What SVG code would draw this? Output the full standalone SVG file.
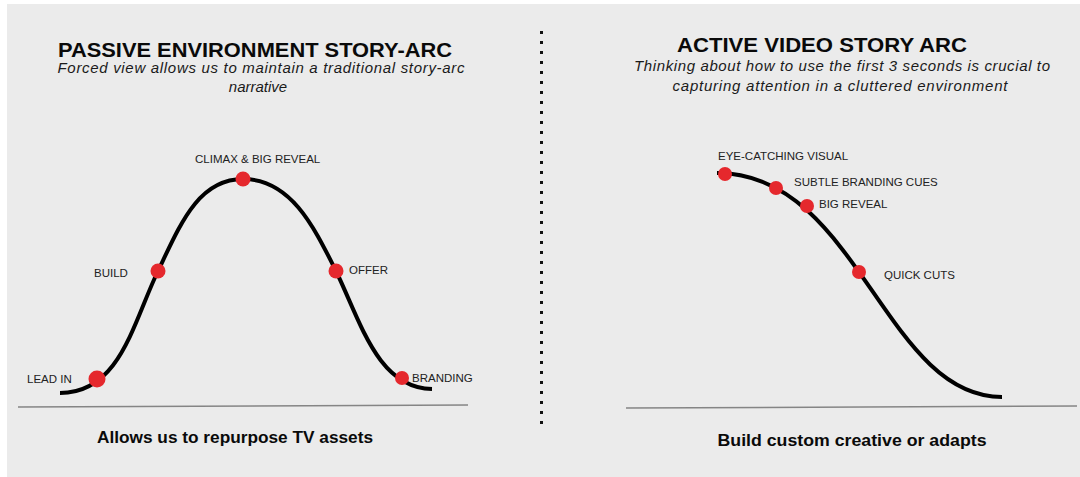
<svg xmlns="http://www.w3.org/2000/svg" width="1080" height="477" viewBox="0 0 1080 477">
  <style>
    .title { font-family: "Liberation Sans", Arial, sans-serif; font-weight: bold; font-size: 21px; fill: #0a0a0a; text-anchor: middle; }
    .sub { font-family: "Liberation Sans", Arial, sans-serif; font-style: italic; font-size: 15px; fill: #1a1a1a; text-anchor: middle; }
    .foot { font-family: "Liberation Sans", Arial, sans-serif; font-weight: bold; font-size: 16.5px; fill: #0a0a0a; text-anchor: middle; }
    .lbl { font-family: "Liberation Sans", Arial, sans-serif; font-size: 11.5px; fill: #222; }
    .dot { fill: #e5282d; }
    .arc { fill: none; stroke: #000; stroke-width: 4; }
    .axis { stroke: #858585; stroke-width: 1.5; fill: none; }
    .divider { stroke: #111; stroke-width: 3; stroke-dasharray: 3 7; }
  </style>

  <!-- page background -->
  <rect x="0" y="0" width="1080" height="477" fill="#ffffff"/>
  <rect x="7" y="4" width="1073" height="473" fill="#ebebeb"/>

  <!-- headings -->
  <g id="passive-heading">
    <text class="title" x="255" y="57" textLength="394" lengthAdjust="spacingAndGlyphs">PASSIVE ENVIRONMENT STORY-ARC</text>
    <text class="sub" x="261" y="73" textLength="407" lengthAdjust="spacing">Forced view allows us to maintain a traditional story-arc</text>
    <text class="sub" x="258" y="92">narrative</text>
  </g>
  <g id="active-heading">
    <text class="title" x="822" y="52" textLength="290" lengthAdjust="spacingAndGlyphs">ACTIVE VIDEO STORY ARC</text>
    <text class="sub" x="842" y="71" textLength="416" lengthAdjust="spacing">Thinking about how to use the first 3 seconds is crucial to</text>
    <text class="sub" x="840" y="91" textLength="335" lengthAdjust="spacing">capturing attention in a cluttered environment</text>
  </g>

  <!-- centre divider -->
  <line class="divider" x1="541.5" y1="31" x2="541.5" y2="425"/>

  <!-- ground lines -->
  <line class="axis" x1="18" y1="407" x2="468" y2="405"/>
  <line class="axis" x1="626" y1="408" x2="1077" y2="406"/>

  <!-- story arcs -->
  <g id="connectors">
    <path class="arc" d="M60,393 C120,393 133,323 158,271 C180,225 198,179 243,179 C291,179 314,227 336,271 C361,323 378,388 432,389"/>
    <path class="arc" d="M717,173 C858,173 884,397 1002,397"/>
  </g>

  <!-- passive arc points -->
  <g id="lead-in">
    <circle class="dot" cx="97" cy="379" r="8.5"/>
    <text class="lbl" x="27" y="383">LEAD IN</text>
  </g>
  <g id="build">
    <circle class="dot" cx="158" cy="271" r="7.5"/>
    <text class="lbl" x="94" y="277">BUILD</text>
  </g>
  <g id="climax">
    <circle class="dot" cx="243" cy="179" r="7.5"/>
    <text class="lbl" x="195" y="163">CLIMAX &amp; BIG REVEAL</text>
  </g>
  <g id="offer">
    <circle class="dot" cx="336" cy="271" r="7.5"/>
    <text class="lbl" x="349" y="274">OFFER</text>
  </g>
  <g id="branding">
    <circle class="dot" cx="402" cy="378" r="7"/>
    <text class="lbl" x="412" y="382">BRANDING</text>
  </g>

  <!-- active arc points -->
  <g id="eye-catching">
    <circle class="dot" cx="725" cy="174" r="7"/>
    <text class="lbl" x="718" y="160">EYE-CATCHING VISUAL</text>
  </g>
  <g id="subtle-branding">
    <circle class="dot" cx="776" cy="188" r="7"/>
    <text class="lbl" x="794" y="186">SUBTLE BRANDING CUES</text>
  </g>
  <g id="big-reveal">
    <circle class="dot" cx="807" cy="206" r="7"/>
    <text class="lbl" x="819" y="208">BIG REVEAL</text>
  </g>
  <g id="quick-cuts">
    <circle class="dot" cx="859" cy="272" r="7"/>
    <text class="lbl" x="884" y="279">QUICK CUTS</text>
  </g>

  <!-- footers -->
  <g id="passive-footer">
    <text class="foot" x="235" y="443" textLength="276" lengthAdjust="spacingAndGlyphs">Allows us to repurpose TV assets</text>
  </g>
  <g id="active-footer">
    <text class="foot" x="852" y="446" textLength="269" lengthAdjust="spacingAndGlyphs">Build custom creative or adapts</text>
  </g>
</svg>
